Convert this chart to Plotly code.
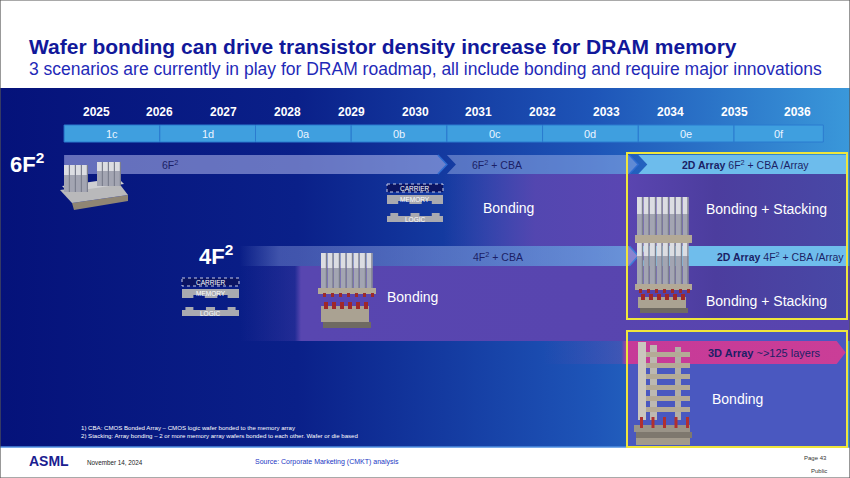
import plotly.graph_objects as go

# ---------------- data ----------------
years = list(range(2025, 2037))
nodes = ["1c", "1d", "0a", "0b", "0c", "0d", "0e", "0f"]
node_start = [2024.5, 2026.0, 2027.5, 2029.0, 2030.5, 2032.0, 2033.5, 2035.0]
node_end = [2026.0, 2027.5, 2029.0, 2030.5, 2032.0, 2033.5, 2035.0, 2036.4]

s6_labels = ["6F<sup>2</sup>", "6F<sup>2</sup> + CBA", "<b>2D Array</b> 6F<sup>2</sup> + CBA /Array"]
s6_start = [2024.5, 2030.5, 2033.5]
s6_end = [2030.5, 2033.5, 2036.78]

s4_labels = ["4F<sup>2</sup> + CBA", "<b>2D Array</b> 4F<sup>2</sup> + CBA /Array"]
s4_start = [2027.25, 2033.5]
s4_end = [2033.5, 2036.78]

s3_labels = ["<b>3D Array</b> ~>125 layers"]
s3_start = [2032.0]
s3_end = [2036.75]

scenario_names = ["6F<sup>2</sup>", "4F<sup>2</sup>"]

# ---------------- geometry helpers (layout only) ----------------
X0, PX0, PPY = 2025, 96.0, 63.8
W, H = 850, 478


def P(px):
    return X0 + (px - PX0) / PPY


FONT = "Liberation Sans, Arial, sans-serif"
NAVY_TXT = "#1b1f66"
D = 9 / PPY

fig = go.Figure()
shapes = []
ann = []


def poly_trace(xs, ys, color=None, grad=None):
    kw = dict(x=xs, y=ys, fill="toself", mode="none", hoverinfo="skip", showlegend=False)
    if grad is not None:
        kw["fillgradient"] = dict(type="horizontal", colorscale=grad)
    else:
        kw["fillcolor"] = color
    fig.add_trace(go.Scatter(**kw))


def box_trace(px0, py0, px1, py1, color=None, grad=None):
    poly_trace([P(px0), P(px1), P(px1), P(px0), P(px0)], [py0, py0, py1, py1, py0], color, grad)


def rect(px0, py0, px1, py1, color, line=None):
    shapes.append(dict(type="rect", xref="x", yref="y", x0=P(px0), x1=P(px1), y0=py0, y1=py1,
                       fillcolor=color, line=line or dict(width=0)))


def path(pts, color):
    d = "M " + " L ".join(f"{P(a)},{b}" for a, b in pts) + " Z"
    shapes.append(dict(type="path", xref="x", yref="y", path=d, fillcolor=color, line=dict(width=0)))


def text(px, py, s, size, color, anchor="center"):
    ann.append(dict(x=P(px), y=py, xref="x", yref="y", text=s,
                    showarrow=False, xanchor=anchor, yanchor="middle",
                    font=dict(family=FONT, size=size, color=color)))


def text_x(x, py, s, size, color, anchor="center"):
    ann.append(dict(x=x, y=py, xref="x", yref="y", text=s, showarrow=False, xanchor=anchor,
                    yanchor="middle", font=dict(family=FONT, size=size, color=color)))


# ---------------- background ----------------
box_trace(0, 88, W, 447, grad=[[0, "#05127a"], [0.35, "#0a2089"], [0.7, "#1e55b8"], [1, "#3a98da"]])
# purple zones
box_trace(443, 174, 627, 246, grad=[[0, "rgba(88,70,176,0)"], [0.2, "rgba(88,70,176,0.35)"],
                                    [0.5, "rgba(88,70,176,0.92)"], [1, "rgba(90,70,178,1)"]])
box_trace(240, 266, W, 341, grad=[[0, "rgba(88,70,176,0)"], [0.09, "rgba(88,70,176,0.3)"],
                                  [0.1, "rgba(88,70,176,1)"], [1, "rgba(88,68,174,1)"]])
box_trace(627, 174, 847, 319, grad=[[0, "#5a45b0"], [0.4, "#4c3d9e"], [1, "#4848a6"]])
box_trace(627, 331, 847, 447, color="#4a58c0")


# ---------------- scenario arrows ----------------
def arrow(x0, x1, y0, y1, notch, tip, color=None, grad=None):
    ym = (y0 + y1) / 2
    xs = [x0, x1 - D if tip else x1, x1, x1 - D if tip else x1, x0, x0 + D if notch else x0, x0]
    ys = [y0, y0, ym, y1, y1, ym, y0]
    poly_trace(xs, ys, color, grad)


def chevron_line(x1, y0, y1, color):
    fig.add_trace(go.Scatter(x=[x1 - D, x1, x1 - D], y=[y0, (y0 + y1) / 2, y1], mode="lines",
                             line=dict(color=color, width=1.5), hoverinfo="skip", showlegend=False))


# 6F2 row
r6 = (155, 174)
fills6 = [dict(color="rgba(205,210,255,0.48)"), dict(color="rgba(205,215,255,0.36)"), dict(color="#6dbcec")]
for i in range(len(s6_labels)):
    arrow(s6_start[i], s6_end[i], r6[0], r6[1], notch=i > 0, tip=i < len(s6_labels) - 1, **fills6[i])
for i in range(len(s6_labels) - 1):
    chevron_line(s6_end[i], r6[0], r6[1], "#2f6cd0")

# 4F2 row
r4 = (246, 266)
fills4 = [dict(grad=[[0, "rgba(190,205,255,0)"], [0.1, "rgba(190,205,255,0.3)"], [1, "rgba(205,220,255,0.42)"]]),
          dict(color="#6fbdec")]
for i in range(len(s4_labels)):
    arrow(s4_start[i], s4_end[i], r4[0], r4[1], notch=i > 0, tip=i < len(s4_labels) - 1, **fills4[i])
for i in range(len(s4_labels) - 1):
    chevron_line(s4_end[i], r4[0], r4[1], "#3d7ed8")

# 3D row
r3 = (341, 364)
arrow(s3_start[0], s3_end[0], r3[0], r3[1], notch=False, tip=True,
      grad=[[0, "rgba(200,60,150,0)"], [0.26, "rgba(200,60,150,0.18)"], [0.28, "rgba(198,58,152,1)"],
            [1, "#ca3e97"]])

# ---------------- generation row ----------------
for s, e in zip(node_start, node_end):
    shapes.append(dict(type="rect", xref="x", yref="y", x0=s, x1=e, y0=125, y1=142,
                       fillcolor="#3f9fdf", line=dict(color="#2b7bcf", width=1)))
for lab, s, e in zip(nodes, node_start, node_end):
    text_x((s + e) / 2, 133.5, lab, 11, "#eaf4ff")
for y in years:
    text_x(y, 112, f"<b>{y}</b>", 12, "white")

# bottom line of band
shapes.append(dict(type="line", xref="x", yref="y", x0=P(0), x1=P(W), y0=447, y1=447,
                   line=dict(color="#4f8fe0", width=1.5)))

# yellow boxes
for (y0, y1) in [(153, 319), (331, 447)]:
    rect(627, y0, 847, y1, "rgba(0,0,0,0)", line=dict(color="#efe63c", width=2))


# ---------------- carrier / memory / logic schematics ----------------
def stack(xl, xr, yt):
    w = xr - xl
    rect(xl, yt, xr, yt + 8, "#0b1462", line=dict(color="#c8cce8", width=1, dash="dot"))
    text((xl + xr) / 2, yt + 4, "CARRIER", 6.5, "white")
    g = "#a9aab0"
    rect(xl, yt + 11, xr, yt + 17, g)
    for a, b in [(0, 0.2), (0.4, 0.62), (0.8, 1)]:
        rect(xl + a * w, yt + 16, xl + b * w, yt + 20, g)
    text((xl + xr) / 2, yt + 15, "MEMORY", 6.5, "white")
    for a, b in [(0.06, 0.2), (0.42, 0.58), (0.8, 0.94)]:
        rect(xl + a * w, yt + 29, xl + b * w, yt + 33, g)
    rect(xl, yt + 32, xr, yt + 38, g)
    text((xl + xr) / 2, yt + 35, "LOGIC", 6.5, "white")


stack(182, 239, 278)
stack(387, 443, 184)


# ---------------- device sketches ----------------
def columns(xs, ytop, ymid, ybot, w=5):
    for x in xs:
        rect(x, ytop, x + w, ymid, "#dcdde2")
        rect(x, ymid, x + w, ybot, "#a3a5b2")
        rect(x + w - 1.2, ytop, x + w, ybot, "#7c7f8e")


# 6F2 device
path([(72, 203), (128, 195), (128, 201), (74, 210)], "#8f8574")
path([(60, 190), (118, 182), (128, 195), (72, 203)], "#b9b9bb")
path([(62, 186), (118, 178), (124, 184), (68, 192)], "#cfcfd2")
columns([64, 70, 76, 82], 165, 175, 192, w=6)
columns([97, 103, 109, 115], 162, 171, 186, w=6)

# 4F2 device
columns([321 + 6.5 * k for k in range(8)], 253, 268, 289, w=6)
rect(318, 288, 376, 294, "#b3a996")
for k in range(7):
    rect(323 + 8 * k, 293, 326 + 8 * k, 297, "#9c2a2a")
rect(321, 306, 369, 322, "#aaa292")
rect(323, 322, 371, 328, "#6f6a62")
for k in range(6):
    rect(324 + 8 * k, 302, 328 + 8 * k, 309, "#a02828")

# box 1 device
columns([637 + 6.5 * k for k in range(8)], 197, 214, 236, w=6)
rect(635, 235, 692, 243, "#b3a996")
columns([637 + 6.5 * k for k in range(8)], 243, 256, 284, w=6)
rect(635, 284, 692, 290, "#b3a996")
for k in range(7):
    rect(639 + 8 * k, 289, 642 + 8 * k, 293, "#9c2a2a")
rect(638, 297, 686, 308, "#aaa292")
rect(640, 308, 688, 313, "#6f6a62")
for k in range(6):
    rect(641 + 8 * k, 294, 645 + 8 * k, 300, "#a02828")

# box 2 device
rect(638, 342, 646, 420, "#cac6be")
rect(650, 345, 657, 420, "#bdb9b1")
rect(675, 347, 681, 420, "#b2aea6")
for k in range(6):
    rect(646, 352 + 11 * k, 690, 357 + 11 * k, "#b4aa96")
rect(634, 425, 690, 432, "#9a9488")
rect(636, 432, 692, 438, "#7e786e")
rect(636, 438, 690, 445, "#a29a8c")
for k in range(5):
    rect(640 + 11.5 * k, 417, 643 + 11.5 * k, 428, "#b03030")

# ---------------- texts ----------------
text(27, 46, "<b>Wafer bonding can drive transistor density increase for DRAM memory</b>", 21, "#11189a",
     anchor="left")
text(27, 69, "3 scenarios are currently in play for DRAM roadmap, all include bonding and require major innovations",
     17.5, "#1f2ab8", anchor="left")

text(27, 163, f"<b>{scenario_names[0]}</b>", 22, "white")
text(216, 255, f"<b>{scenario_names[1]}</b>", 22, "white")

lab6_px = [170, 497, 745]
for lab, px in zip(s6_labels, lab6_px):
    text(px, 164.5, lab, 10.5, NAVY_TXT)
lab4_px = [498, 780]
for lab, px in zip(s4_labels, lab4_px):
    text(px, 256, lab, 10.5, NAVY_TXT)
text(764, 352.5, s3_labels[0], 11, NAVY_TXT)

text(508, 208, "Bonding", 14, "white")
text(412, 297, "Bonding", 14, "white")
text(766, 209, "Bonding + Stacking", 14, "white")
text(766, 301, "Bonding + Stacking", 14, "white")
text(710, 399, "Bonding", 14, "white", anchor="left")

text(79, 427, "1) CBA: CMOS Bonded Array – CMOS logic wafer bonded to the memory array", 6.1, "white", anchor="left")
text(79, 435, "2) Stacking: Array bonding – 2 or more memory array wafers bonded to each other. Wafer or die based",
     6.1, "white", anchor="left")

text(27, 461, "<b>ASML</b>", 14, "#1a2090", anchor="left")
text(85, 462, "November 14, 2024", 6.3, "#222222", anchor="left")
text(253, 462, "Source: Corporate Marketing (CMKT) analysis", 7, "#2236c4", anchor="left")
text(829, 458, "Page 43", 6, "#333333", anchor="right")
text(829, 471, "Public", 6, "#333333", anchor="right")

# slide frame
shapes.append(dict(type="rect", xref="paper", yref="paper", x0=0, x1=1, y0=0, y1=1,
                   line=dict(color="#555555", width=1.2), fillcolor="rgba(0,0,0,0)"))

fig.update_layout(
    width=W, height=H, margin=dict(l=0, r=0, t=0, b=0),
    paper_bgcolor="white", plot_bgcolor="white",
    xaxis=dict(range=[P(0), P(W)], visible=False, fixedrange=True),
    yaxis=dict(range=[H, 0], visible=False, fixedrange=True),
    shapes=shapes, annotations=ann, showlegend=False,
)

fig.write_html("out.html", config={"displayModeBar": False, "staticPlot": True},
               post_script="document.body.style.margin='0';")
